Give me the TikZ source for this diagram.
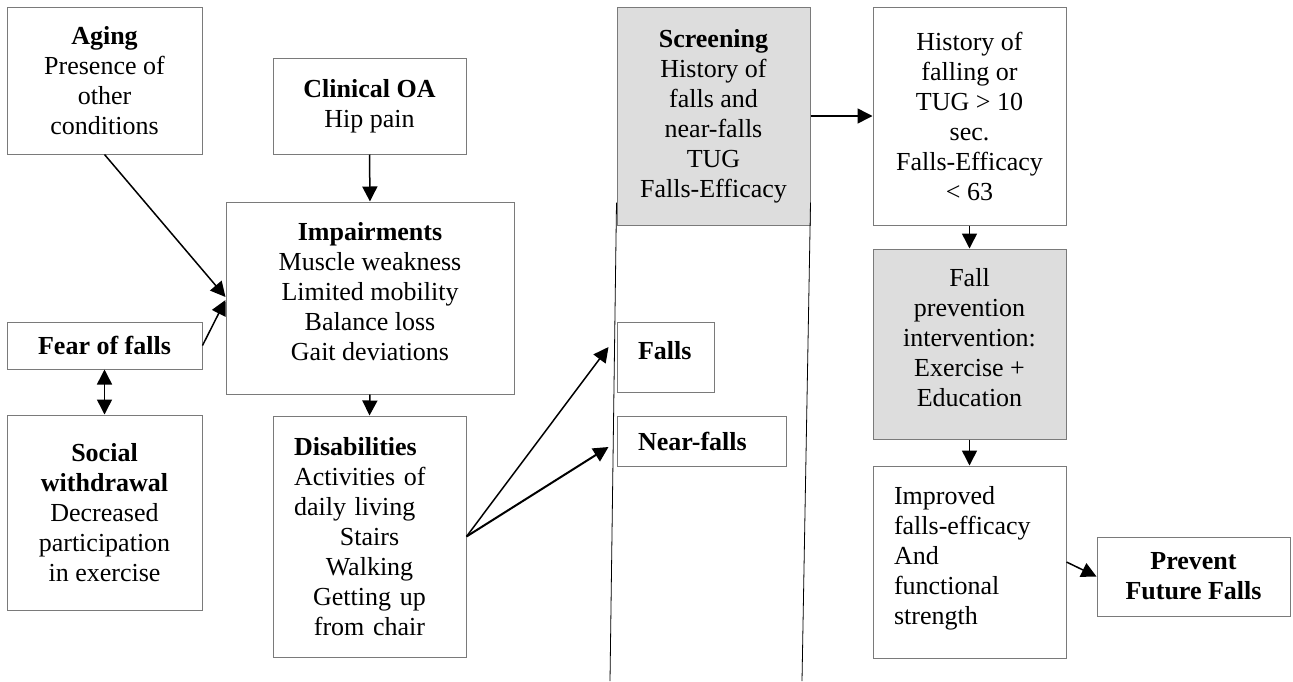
\documentclass[tikz,border=0pt]{standalone}
\usepackage{fontspec}
\setmainfont{Liberation Serif}
\usetikzlibrary{arrows.meta}
\definecolor{boxgray}{HTML}{7A7A7A}
\definecolor{shade}{HTML}{DDDDDD}
\newcommand{\liftup}{\\[-16pt]\mbox{}}
\tikzset{
  box/.style={draw=boxgray,line width=1pt,inner sep=0pt,align=center,
    font=\fontsize{26}{30}\selectfont},
  shaded/.style={box,fill=shade},
  leftbox/.style={box,align=left,inner xsep=21pt},
  arr/.style={line width=1.5pt,-{Triangle[length=15pt,width=15pt]}},
  thinline/.style={line width=0.8pt}
}
\begin{document}
\begin{tikzpicture}[x=1pt,y=-1pt]
      \useasboundingbox (0,0) rectangle (1293,681);
      % left column
      \node[box,minimum width=195pt,minimum height=147pt] (aging) at (104.5,80.5)
        {\textbf{Aging}\\Presence of\\other\\conditions};
      \node[box,minimum width=195pt,minimum height=47pt] (fear) at (104.5,345.5)
        {\textbf{Fear of falls}};
      \node[box,minimum width=195pt,minimum height=195pt] (social) at (104.5,512.5)
        {\textbf{Social}\\\textbf{withdrawal}\\Decreased\\participation\\in exercise};
      % middle column
      \node[box,minimum width=193pt,minimum height=96pt] (clinic) at (369.5,106)
        {\textbf{Clinical OA}\\Hip pain};
      \node[box,minimum width=288pt,minimum height=192pt] (impair) at (370,298)
        {\textbf{Impairments}\\Muscle weakness\\Limited mobility\\Balance loss\\Gait deviations\liftup};
      \node[box,align=center,inner xsep=21pt,text width=151pt,minimum height=241pt] (disab) at (369.5,536.5)
        {\textbf{Disabilities}\hfill\null\\Activities of\hfill\null\\daily living\hfill\null\\Stairs\\Walking\\Getting up\\from chair};
      % screening column
      \node[shaded,minimum width=193pt,minimum height=218pt] (screen) at (713.5,116)
        {\textbf{Screening}\\History of\\falls and\\near-falls\\TUG\\Falls-Efficacy};
      \node[leftbox,text width=55pt,minimum height=70pt] (falls) at (665.5,357) {\textbf{Falls}\liftup};
      \node[leftbox,text width=127pt,minimum height=50pt] (nearf) at (701.5,441) {\textbf{Near-falls}};
      \coordinate (lbot) at (610,681);
      \coordinate (rbot) at (802,681);
      \draw[thinline] ([yshift=23pt]screen.south west) -- (lbot);
      \draw[thinline] ([yshift=23pt]screen.south east) -- (rbot);
      % right column
      \node[box,minimum width=193pt,minimum height=218pt] (hist) at (969.5,116)
        {History of\\falling or\\TUG > 10\\sec.\\Falls-Efficacy\\< 63};
      \node[shaded,minimum width=193pt,minimum height=190pt] (prevint) at (969.5,344)
        {Fall\\prevention\\intervention:\\Exercise +\\Education\liftup};
      \node[leftbox,text width=151pt,minimum height=192pt] (improv) at (969.5,562)
        {Improved\\falls-efficacy\\And\\functional\\strength\liftup};
      \node[box,minimum width=193pt,minimum height=79pt] (prevent) at (1193.5,576.5)
        {\textbf{Prevent}\\\textbf{Future Falls}};
      % connectors
      \draw[arr] (aging.south) -- ([yshift=1pt]impair.west);
      \draw[arr] (fear.east) -- ([yshift=-2pt]impair.west);
      \draw[arr] (clinic.south) -- (impair.north);
      \draw[arr,{Triangle[length=15pt,width=15pt]}-{Triangle[length=15pt,width=15pt]}] (fear.south) -- (social.north);
      \draw[arr] (impair.south) -- (disab.north);
      \draw[arr] (disab.east) -- ([xshift=-8pt,yshift=10pt]falls.west);
      \draw[arr,line width=2pt] (disab.east) -- ([xshift=-8pt,yshift=-6pt]nearf.west);
      \draw[arr] (screen.east) -- (hist.west);
      \draw[arr] (hist.south) -- (prevint.north);
      \draw[arr] (prevint.south) -- (improv.north);
      \draw[arr] (improv.east) -- (prevent.west);
    \end{tikzpicture}
\end{document}
